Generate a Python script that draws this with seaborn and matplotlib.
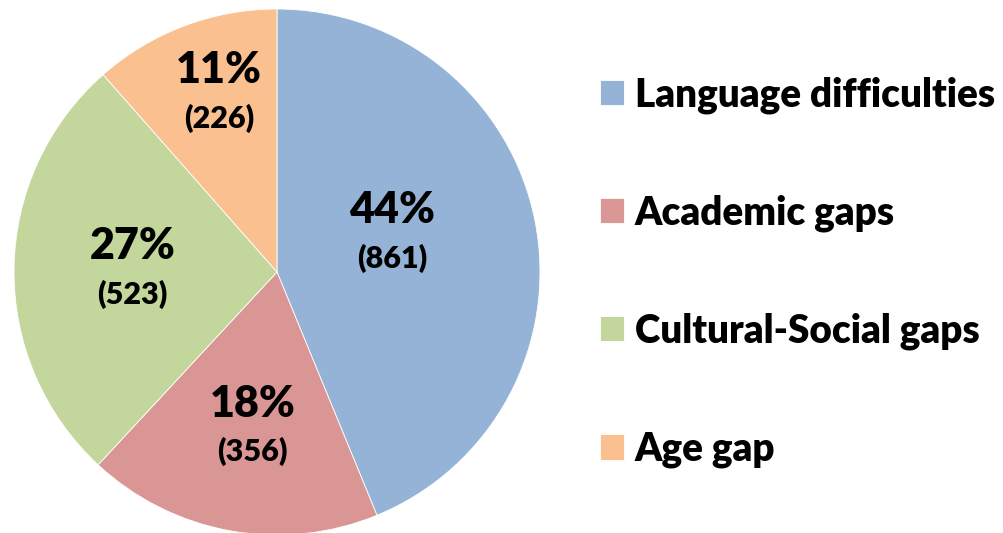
import numpy as np
import matplotlib
matplotlib.use("Agg")
import matplotlib.pyplot as plt
import seaborn as sns

categories = ["Language difficulties", "Academic gaps", "Cultural-Social gaps", "Age gap"]
counts = [861, 356, 523, 226]
percent_labels = ["44%", "18%", "27%", "11%"]
colors = ["#95B3D7", "#D99694", "#C3D69B", "#FAC090"]

# label placement (style): radial factor and angular nudge in degrees
label_radius = [0.46, 0.60, 0.55, 0.71]
label_nudge = [7.0, 1.4, 0.0, -2.7]

sns.set_theme(style="white")
plt.rcParams["font.family"] = ["Lato", "DejaVu Sans"]
plt.rcParams["font.weight"] = "heavy"
plt.rcParams["text.color"] = "black"

W, H = 1004, 533
fig = plt.figure(figsize=(W / 100, H / 100), dpi=100)
cx, cy, r = 277, 272, 263
ax = fig.add_axes([(cx - r) / W, (H - cy - r) / H, 2 * r / W, 2 * r / H])

wedges, _ = ax.pie(counts, colors=sns.color_palette(colors), startangle=90,
                   counterclock=False, radius=1.0,
                   wedgeprops=dict(edgecolor="white", linewidth=0.6))
ax.set_xlim(-1, 1)
ax.set_ylim(-1, 1)
ax.set_aspect("equal")
ax.axis("off")

off = 24 / r
for w, pl, c, rf, nd in zip(wedges, percent_labels, counts, label_radius, label_nudge):
    ang = np.deg2rad((w.theta1 + w.theta2) / 2 + nd)
    x, y = rf * np.cos(ang), rf * np.sin(ang)
    ax.text(x, y + off, pl, ha="center", va="center", fontsize=31,
            fontweight="heavy", color="black")
    ax.text(x, y - off, f"({c})", ha="center", va="center", fontsize=22,
            fontweight="heavy", color="black")

leg = fig.legend(wedges, categories, loc="upper left",
                 bbox_to_anchor=(600 / W, 1 - 76 / H), frameon=False,
                 prop=dict(size=27.8, weight="heavy"), handlelength=0.62,
                 handleheight=0.62, handletextpad=0.28, labelspacing=2.09,
                 borderaxespad=0, borderpad=0)
for t in leg.get_texts():
    t.set_color("black")

fig.savefig("out.png", dpi=100)
